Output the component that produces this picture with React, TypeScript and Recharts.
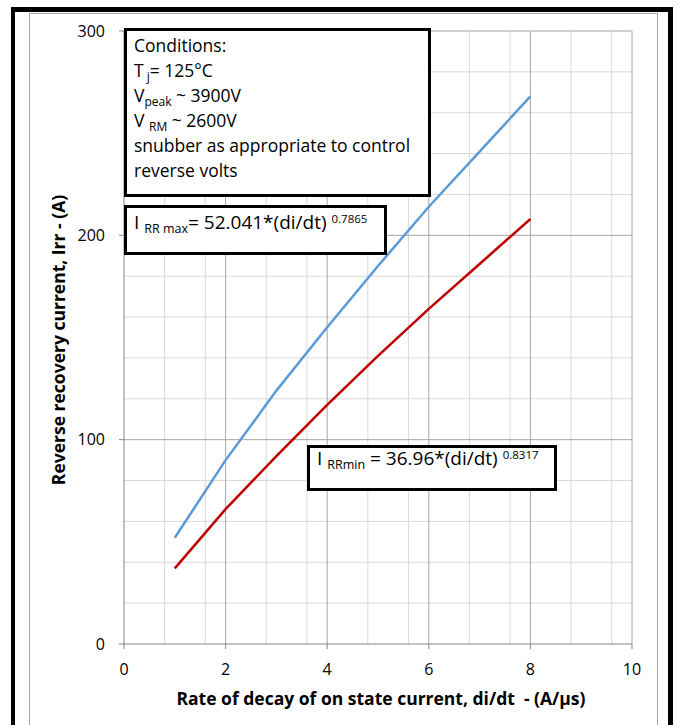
import {
  CartesianGrid,
  Label,
  Line,
  LineChart,
  ReferenceLine,
  XAxis,
  YAxis,
} from "recharts";

// di/dt (A/µs) and the two fitted recovery-current curves
const didt = [1, 2, 3, 4, 5, 6, 7, 8];
const irrMax = [52, 90, 124, 155, 185, 214, 241, 268];
const irrMin = [37, 66, 92, 117, 141, 164, 186, 208];

const xTicks = [0, 2, 4, 6, 8, 10];
const yTicks = [0, 100, 200, 300];
const xMinor = [0.4, 0.8, 1.2, 1.6, 2.4, 2.8, 3.2, 3.6, 4.4, 4.8, 5.2, 5.6, 6.4, 6.8, 7.2, 7.6, 8.4, 8.8, 9.2, 9.6];
const yMinor = [20, 40, 60, 80, 120, 140, 160, 180, 220, 240, 260, 280];

const xTitle = "Rate of decay of on state current, di/dt  - (A/µs)";
const yTitle = "Reverse recovery current, Irr - (A)";

const FONT = "'Open Sans', 'Noto Sans', sans-serif";
const MAJOR = "#a6a6a6";
const MINOR = "#d9d9d9";

const data = didt.map((x, i) => ({ x, max: irrMax[i], min: irrMin[i] }));

const sub = { fontSize: 12, verticalAlign: "-0.3em", lineHeight: 0 } as const;
const fSub = { fontSize: 12.5, verticalAlign: "-0.3em", lineHeight: 0 } as const;
const fSup = { fontSize: 11.5, verticalAlign: "0.55em", lineHeight: 0 } as const;

const box = {
  position: "absolute",
  boxSizing: "border-box",
  border: "3px solid #000",
  background: "#fff",
  fontFamily: FONT,
  color: "#000",
  whiteSpace: "pre",
} as const;

export default function App() {
  return (
    <div
      style={{
        position: "absolute",
        left: 0,
        top: 0,
        width: 677,
        height: 725,
        overflow: "hidden",
        background: "#fff",
      }}
    >
      {/* outer frame, open at the bottom */}
      <div
        style={{
          position: "absolute",
          left: 11,
          top: 7,
          width: 653,
          height: 740,
          borderLeft: "4px solid #000",
          borderTop: "5px solid #000",
          borderRight: "5px solid #000",
        }}
      />
      {/* chart area border */}
      <div
        style={{
          position: "absolute",
          left: 29,
          top: 13,
          width: 627,
          height: 740,
          border: "1px solid #a6a6a6",
        }}
      />
      <div style={{ position: "absolute", left: 0, top: 0 }}>
        <LineChart
          width={677}
          height={725}
          data={data}
          margin={{ top: 31, right: 45, bottom: 51, left: 64 }}
        >
          <CartesianGrid
            stroke={MINOR}
            verticalValues={xMinor}
            horizontalValues={yMinor}
          />
          {xTicks.slice(1).map((v) => (
            <ReferenceLine key={"x" + v} x={v} stroke={MAJOR} />
          ))}
          {yTicks.slice(1).map((v) => (
            <ReferenceLine key={"y" + v} y={v} stroke={MAJOR} />
          ))}
          <XAxis
            dataKey="x"
            type="number"
            domain={[0, 10]}
            ticks={xTicks}
            height={30}
            axisLine={{ stroke: "#868686" }}
            tickLine={{ stroke: "#868686" }}
            tickSize={5}
            tickMargin={15}
            tick={{ fill: "#000", fontSize: 16, fontFamily: FONT }}
          >
            <Label
              content={({ viewBox }: any) => (
                <text
                  x={viewBox.x + viewBox.width / 2 + 3}
                  y={705}
                  textAnchor="middle"
                  fontFamily={FONT}
                  fontSize={17.5}
                  fontWeight="bold"
                  fill="#000"
                  style={{ whiteSpace: "pre" }}
                >
                  {xTitle}
                </text>
              )}
            />
          </XAxis>
          <YAxis
            type="number"
            domain={[0, 300]}
            ticks={yTicks}
            width={60}
            axisLine={{ stroke: "#868686" }}
            tickLine={{ stroke: "#868686" }}
            tickSize={5}
            tickMargin={14}
            tick={{ fill: "#000", fontSize: 16, fontFamily: FONT }}
          >
            <Label
              content={() => (
                <text
                  x={65}
                  y={340}
                  transform="rotate(-90 65 340)"
                  textAnchor="middle"
                  fontFamily={FONT}
                  fontSize={17.5}
                  fontWeight="bold"
                  fill="#000"
                >
                  {yTitle}
                </text>
              )}
            />
          </YAxis>
          <Line
            type="linear"
            dataKey="max"
            stroke="#5b9bd5"
            strokeWidth={2.5}
            dot={false}
            isAnimationActive={false}
          />
          <Line
            type="linear"
            dataKey="min"
            stroke="#c00000"
            strokeWidth={2.5}
            dot={false}
            isAnimationActive={false}
          />
        </LineChart>
      </div>

      <div
        style={{
          ...box,
          left: 124,
          top: 28,
          width: 307,
          height: 169,
          padding: "2px 0 0 7px",
          fontSize: 17.5,
          lineHeight: "25px",
        }}
      >
        <div>Conditions:</div>
        <div>
          T<span style={sub}> j</span>= 125°C
        </div>
        <div>
          V<span style={sub}>peak</span> ~ 3900V
        </div>
        <div>
          V <span style={sub}>RM</span> ~ 2600V
        </div>
        <div>snubber as appropriate to control</div>
        <div>reverse volts</div>
      </div>

      <div
        style={{
          ...box,
          left: 124,
          top: 205,
          width: 263,
          height: 50,
          padding: "4px 0 0 7px",
          fontSize: 19,
          lineHeight: "20px",
        }}
      >
        I <span style={fSub}>RR max</span>= 52.041*(di/dt) <span style={fSup}>0.7865</span>
      </div>

      <div
        style={{
          ...box,
          left: 307,
          top: 445,
          width: 250,
          height: 46,
          padding: "0 0 0 7px",
          fontSize: 19,
          lineHeight: "20px",
        }}
      >
        I <span style={fSub}>RRmin</span> = 36.96*(di/dt) <span style={fSup}>0.8317</span>
      </div>
    </div>
  );
}
